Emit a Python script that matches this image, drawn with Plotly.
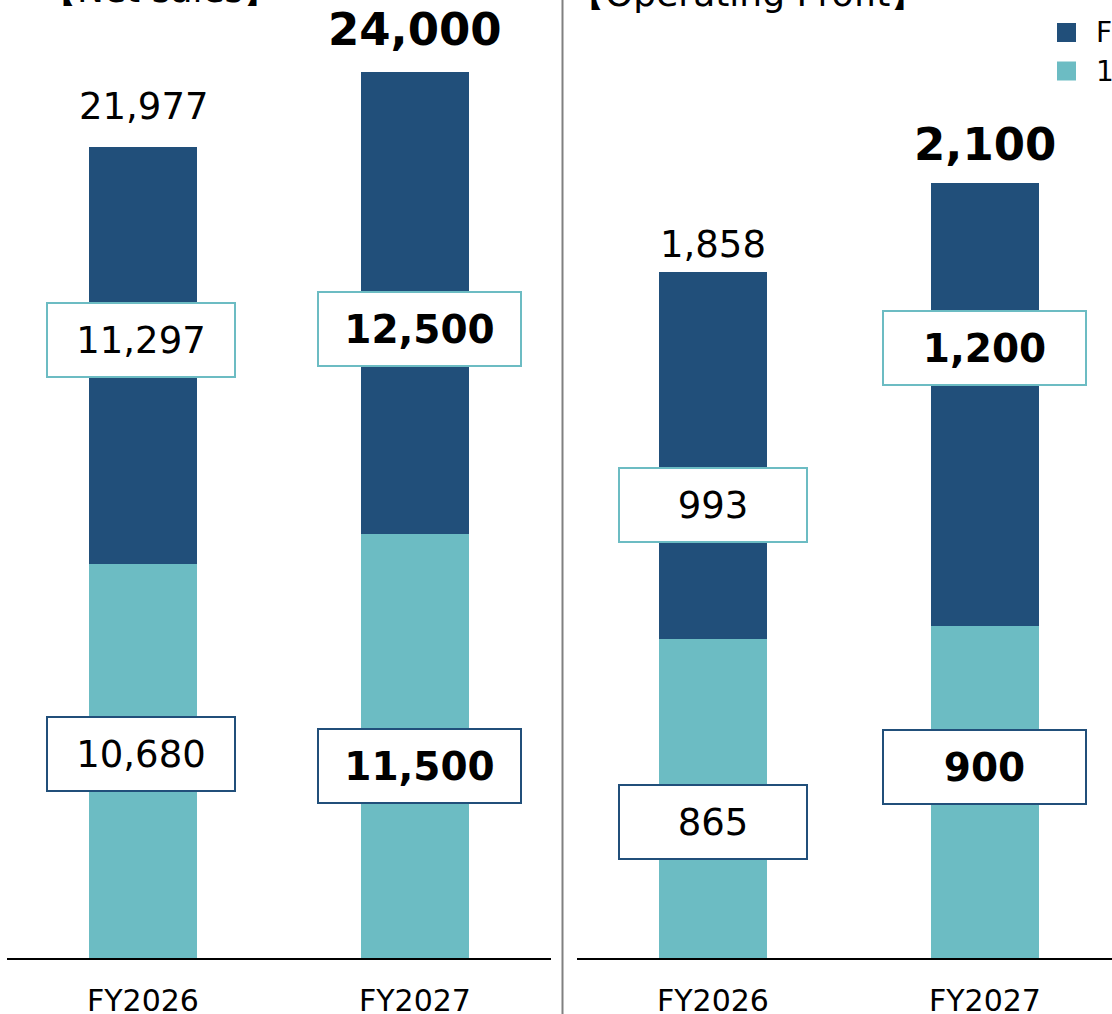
import plotly.graph_objects as go

# ---------------- data ----------------
categories = ["FY2026", "FY2027"]
legend_names = ["Full year", "1H"]
panel_titles = ["【Net sales】", "【Operating Profit】"]

sales_first = [10680, 11500]
sales_second = [11297, 12500]
sales_total = [21977, 24000]

op_first = [865, 900]
op_second = [993, 1200]
op_total = [1858, 2100]

# ---------------- style ----------------
W, H = 1112, 1014
DARK = "#214f7a"
TEAL = "#6cbcc3"
FONT = "DejaVu Sans"


def px_x(p):
    return p / W


def px_y(p):
    return 1 - p / H


fig = go.Figure()

panels = [
    dict(xa="x", ya="y", first=sales_first, second=sales_second, total=sales_total),
    dict(xa="x2", ya="y2", first=op_first, second=op_second, total=op_total),
]

for pnl in panels:
    fig.add_trace(go.Bar(x=categories, y=pnl["first"], name=legend_names[1],
                         marker=dict(color=TEAL, line=dict(width=0)), width=0.4,
                         xaxis=pnl["xa"], yaxis=pnl["ya"], showlegend=False))
    fig.add_trace(go.Bar(x=categories, y=pnl["second"], name=legend_names[0],
                         marker=dict(color=DARK, line=dict(width=0)), width=0.4,
                         xaxis=pnl["xa"], yaxis=pnl["ya"], showlegend=False))

annotations = []

# pixel offsets for labels (styling)
total_shift = [[40, 43], [28, 38]]
top_box_shift = [[15, -26], [-50, 56]]
bot_box_shift = [[7, -20], [-24, 25]]
box_xshift = [[-2, 4], [0, -1]]


def fmt(v, bold):
    s = f"{v:,}"
    return f"<b>{s}</b>" if bold else s


for k, pnl in enumerate(panels):
    for i, cat in enumerate(categories):
        bold = i == 1
        tot = pnl["total"][i]
        f1 = pnl["first"][i]
        f2 = pnl["second"][i]
        annotations.append(dict(
            x=cat, y=tot, xref=pnl["xa"], yref=pnl["ya"], text=fmt(tot, bold),
            showarrow=False, xanchor="center", yanchor="middle", yshift=total_shift[k][i],
            font=dict(family=FONT, size=45 if bold else 37, color="black")))
        bw = 201 if bold else 186
        # top segment box
        annotations.append(dict(
            x=cat, y=f1 + f2 / 2, xref=pnl["xa"], yref=pnl["ya"], text=fmt(f2, bold),
            showarrow=False, xanchor="center", yanchor="middle", yshift=top_box_shift[k][i],
            xshift=box_xshift[k][i],
            width=bw, height=72, bgcolor="white", bordercolor=TEAL, borderwidth=2,
            borderpad=0,
            font=dict(family=FONT, size=39 if bold else 37, color="black")))
        # bottom segment box
        annotations.append(dict(
            x=cat, y=f1 / 2, xref=pnl["xa"], yref=pnl["ya"], text=fmt(f1, bold),
            showarrow=False, xanchor="center", yanchor="middle", yshift=bot_box_shift[k][i],
            xshift=box_xshift[k][i],
            width=bw, height=72, bgcolor="white", bordercolor=DARK, borderwidth=2,
            borderpad=0,
            font=dict(family=FONT, size=39 if bold else 37, color="black")))

# panel titles (cropped at the top)
annotations.append(dict(x=px_x(160), y=px_y(-11), xref="paper", yref="paper",
                        text=panel_titles[0], showarrow=False, xanchor="center",
                        yanchor="middle",
                        font=dict(family=FONT, size=36, color="black")))
annotations.append(dict(x=px_x(747), y=px_y(-7), xref="paper", yref="paper",
                        text=panel_titles[1], showarrow=False, xanchor="center",
                        yanchor="middle",
                        font=dict(family=FONT, size=36, color="black")))

shapes = [
    dict(type="line", xref="paper", yref="paper", x0=px_x(562.5), x1=px_x(562.5),
         y0=0, y1=1, line=dict(color="#808080", width=2)),
]

# custom legend
leg_colors = [DARK, TEAL]
leg_centers = [32.5, 71]
for name, col, cy in zip(legend_names, leg_colors, leg_centers):
    shapes.append(dict(type="rect", xref="paper", yref="paper",
                       x0=px_x(1057), x1=px_x(1076), y0=px_y(cy - 9.5), y1=px_y(cy + 9.5),
                       fillcolor=col, line=dict(width=0)))
    annotations.append(dict(x=px_x(1094), y=px_y(cy), xref="paper", yref="paper",
                            text=name, showarrow=False, xanchor="left", yanchor="middle",
                            font=dict(family=FONT, size=28, color="black")))

axis_common = dict(showgrid=False, zeroline=False, showline=True, linecolor="black",
                   linewidth=2, ticks="", tickfont=dict(family=FONT, size=30, color="black"),
                   ticklabelstandoff=15, fixedrange=True, automargin=False)
yaxis_common = dict(showgrid=False, zeroline=False, showline=False, showticklabels=False,
                    domain=[56 / H, 1], fixedrange=True, automargin=False)

fig.update_layout(
    width=W, height=H, margin=dict(l=0, r=0, t=0, b=0, pad=0, autoexpand=False),
    paper_bgcolor="white", plot_bgcolor="white",
    barmode="stack", showlegend=False,
    font=dict(family=FONT),
    xaxis=dict(domain=[px_x(7), px_x(551)], range=[-0.5, 1.5], anchor="y", **axis_common),
    xaxis2=dict(domain=[px_x(577), 1], range=[-0.5, (W - 577) / 272 - 0.5], anchor="y2",
                **axis_common),
    yaxis=dict(range=[0, 25955], anchor="x", **yaxis_common),
    yaxis2=dict(range=[0, 2595], anchor="x2", **yaxis_common),
    annotations=annotations, shapes=shapes,
)

fig.write_html("out.html")
